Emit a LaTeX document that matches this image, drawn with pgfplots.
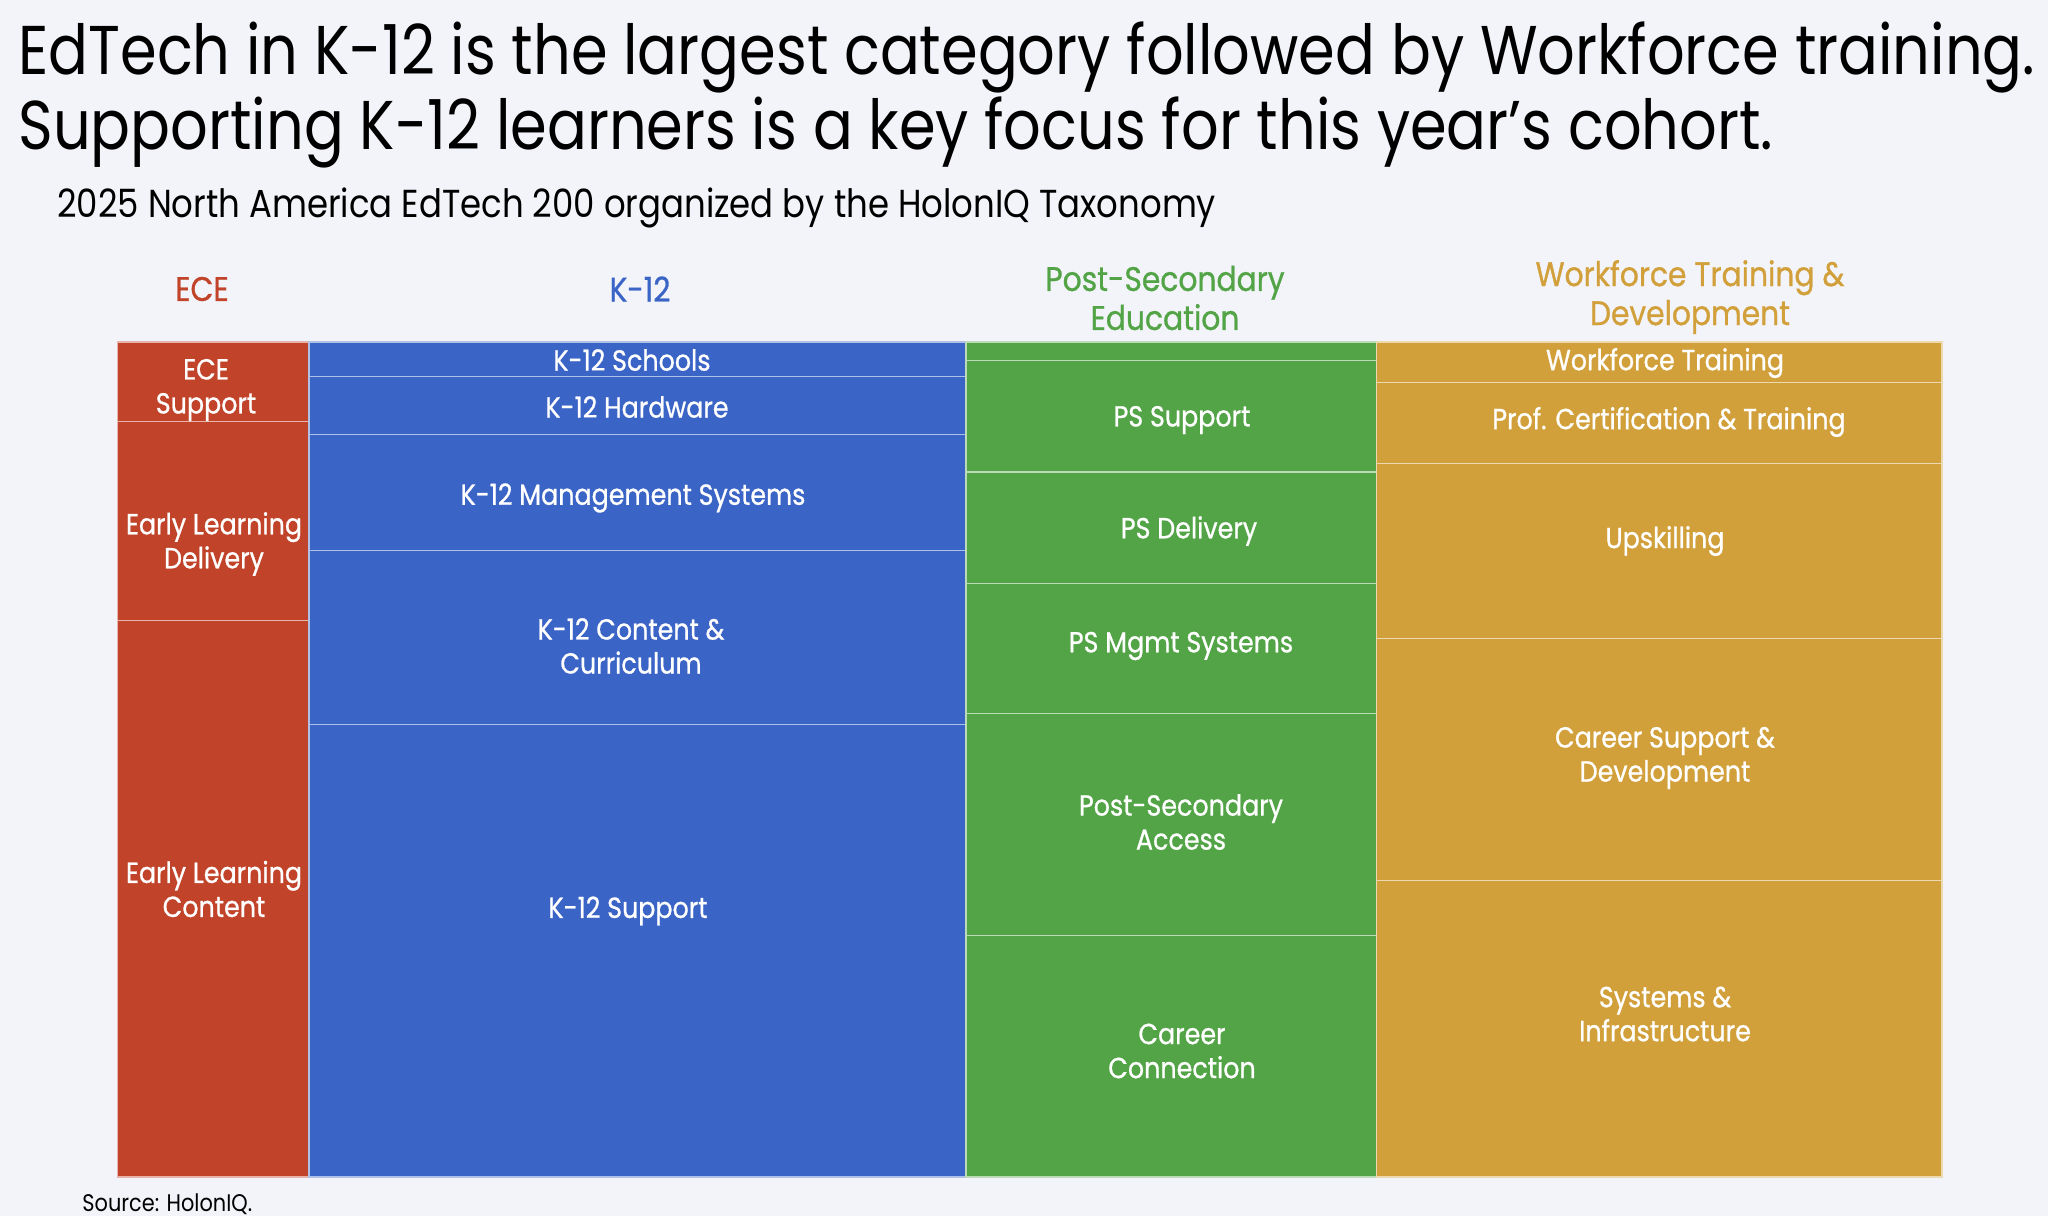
\documentclass[border=0pt]{standalone}
\usepackage{fontspec}
\usepackage{pgfplots}
\pgfplotsset{compat=1.18}
\setmainfont{Poppins}[FakeStretch=0.87]
\newfontfamily\titlefont{Poppins}[FakeStretch=0.855]
\newfontfamily\labfont{Poppins}[FakeStretch=0.875, FakeBold=0.8]
\definecolor{bg}{HTML}{F3F4FA}
\definecolor{ece}{HTML}{C1442A}
\definecolor{kt}{HTML}{3A64C5}
\definecolor{ps}{HTML}{52A446}
\definecolor{wf}{HTML}{D2A03A}
\begin{document}
\begin{tikzpicture}
\fill[bg] (0pt,0pt) rectangle (1024pt,-608pt);
\begin{axis}[at={(58.75pt,-588.5pt)}, anchor=south west,
  width=912.25pt, height=417.5pt, scale only axis,
  xmin=0, xmax=200, ymin=0, ymax=1, y dir=reverse,
  hide axis, clip=false]
% ECE (21)
\addplot[fill=ece, draw=white!60!ece, line width=0.6pt] coordinates {(0,0) (21,0) (21,0.0952) (0,0.0952)} --cycle;
\addplot[fill=ece, draw=white!60!ece, line width=0.6pt] coordinates {(0,0.0952) (21,0.0952) (21,0.3333) (0,0.3333)} --cycle;
\addplot[fill=ece, draw=white!60!ece, line width=0.6pt] coordinates {(0,0.3333) (21,0.3333) (21,1) (0,1)} --cycle;
% K-12 (72)
\addplot[fill=kt, draw=white!60!kt, line width=0.6pt] coordinates {(21,0) (93,0) (93,0.0417) (21,0.0417)} --cycle;
\addplot[fill=kt, draw=white!60!kt, line width=0.6pt] coordinates {(21,0.0417) (93,0.0417) (93,0.1111) (21,0.1111)} --cycle;
\addplot[fill=kt, draw=white!60!kt, line width=0.6pt] coordinates {(21,0.1111) (93,0.1111) (93,0.25) (21,0.25)} --cycle;
\addplot[fill=kt, draw=white!60!kt, line width=0.6pt] coordinates {(21,0.25) (93,0.25) (93,0.4583) (21,0.4583)} --cycle;
\addplot[fill=kt, draw=white!60!kt, line width=0.6pt] coordinates {(21,0.4583) (93,0.4583) (93,1) (21,1)} --cycle;
% PS (45)
\addplot[fill=ps, draw=white!60!ps, line width=0.6pt] coordinates {(93,0) (138,0) (138,0.0222) (93,0.0222)} --cycle;
\addplot[fill=ps, draw=white!60!ps, line width=0.6pt] coordinates {(93,0.0222) (138,0.0222) (138,0.1556) (93,0.1556)} --cycle;
\addplot[fill=ps, draw=white!60!ps, line width=0.6pt] coordinates {(93,0.1556) (138,0.1556) (138,0.2889) (93,0.2889)} --cycle;
\addplot[fill=ps, draw=white!60!ps, line width=0.6pt] coordinates {(93,0.2889) (138,0.2889) (138,0.4444) (93,0.4444)} --cycle;
\addplot[fill=ps, draw=white!60!ps, line width=0.6pt] coordinates {(93,0.4444) (138,0.4444) (138,0.7111) (93,0.7111)} --cycle;
\addplot[fill=ps, draw=white!60!ps, line width=0.6pt] coordinates {(93,0.7111) (138,0.7111) (138,1) (93,1)} --cycle;
% WF (62)
\addplot[fill=wf, draw=white!60!wf, line width=0.6pt] coordinates {(138,0) (200,0) (200,0.0484) (138,0.0484)} --cycle;
\addplot[fill=wf, draw=white!60!wf, line width=0.6pt] coordinates {(138,0.0484) (200,0.0484) (200,0.1452) (138,0.1452)} --cycle;
\addplot[fill=wf, draw=white!60!wf, line width=0.6pt] coordinates {(138,0.1452) (200,0.1452) (200,0.3548) (138,0.3548)} --cycle;
\addplot[fill=wf, draw=white!60!wf, line width=0.6pt] coordinates {(138,0.3548) (200,0.3548) (200,0.6452) (138,0.6452)} --cycle;
\addplot[fill=wf, draw=white!60!wf, line width=0.6pt] coordinates {(138,0.6452) (200,0.6452) (200,1) (138,1)} --cycle;
\end{axis}
\begin{scope}[x=0.5pt,y=-0.5pt]
% titles
\node[anchor=base west, inner sep=0pt, font=\titlefont\fontsize{34.5}{38}\selectfont] at (18,74) {EdTech in K-12 is the largest category followed by Workforce training.};
\node[anchor=base west, inner sep=0pt, font=\titlefont\fontsize{34.5}{38}\selectfont] at (18,149) {Supporting K-12 learners is a key focus for this year’s cohort.};
\node[anchor=base west, inner sep=0pt, font=\fontsize{19.5}{23}\selectfont] at (57,217) {2025 North America EdTech 200 organized by the HolonIQ Taxonomy};
\node[anchor=west, inner sep=0pt, font=\fontsize{12}{14}\selectfont] at (82,1204) {Source: HolonIQ.};
% headers
\begin{scope}[every node/.style={align=center, inner sep=0pt, font=\labfont\fontsize{17}{19.5}\selectfont}]
\node[text=ece] at (202,289) {ECE};
\node[text=kt] at (640,289) {K-12};
\node[text=ps] at (1165,298) {Post-Secondary\\Education};
\node[text=wf] at (1690,297) {Workforce Training \&\\Development};
\end{scope}
% cell labels
\begin{scope}[every node/.style={align=center, inner sep=0pt, text=white, font=\labfont\fontsize{14.5}{17}\selectfont}]
\node at (206,390) {ECE\\Support};
\node at (214,544) {Early Learning\\Delivery};
\node at (214,889) {Early Learning\\Content};
\node at (632,360) {K-12 Schools};
\node at (637,407) {K-12 Hardware};
\node at (633,498) {K-12 Management Systems};
\node at (631,646) {K-12 Content \&\\Curriculum};
\node at (628,911) {K-12 Support};
\node at (1182,420) {PS Support};
\node at (1189,531) {PS Delivery};
\node at (1181,646) {PS Mgmt Systems};
\node at (1181,822) {Post-Secondary\\Access};
\node at (1182,1051) {Career\\Connection};
\node at (1665,363) {Workforce Training};
\node at (1669,422) {Prof. Certification \& Training};
\node at (1665,541) {Upskilling};
\node at (1665,758) {Career Support \&\\Development};
\node at (1665,1014) {Systems \&\\Infrastructure};
\end{scope}
\end{scope}
\end{tikzpicture}
\end{document}
